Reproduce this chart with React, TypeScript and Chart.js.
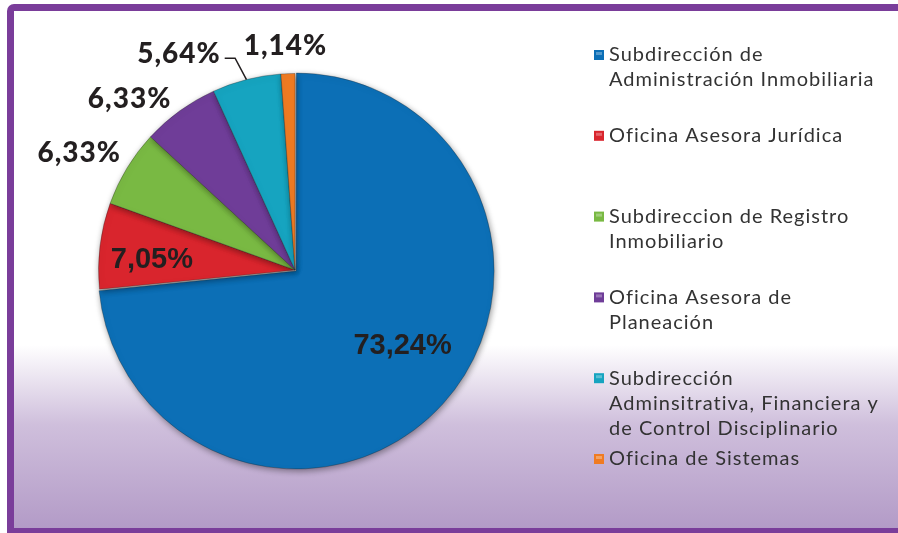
import React, { useEffect, useRef } from 'react';
import { Chart, registerables } from 'chart.js';
Chart.register(...registerables);

// ---- data ----
const categories: string[][] = [
  ['Subdirección de', 'Administración Inmobiliaria'],
  ['Oficina Asesora Jurídica'],
  ['Subdireccion de Registro', 'Inmobiliario'],
  ['Oficina Asesora de', 'Planeación'],
  ['Subdirección', 'Adminsitrativa, Financiera y', 'de Control Disciplinario'],
  ['Oficina de Sistemas'],
];
const shares = [73.24, 7.05, 6.33, 6.33, 5.64, 1.14];
const valueLabels = ['73,24%', '7,05%', '6,33%', '6,33%', '5,64%', '1,14%'];

// ---- styles ----
const sliceColors = ['#0c6fb6', '#d9252d', '#79b943', '#6f3d98', '#16a4c0', '#f07b22'];
const sliceOffsets = [6, 0, 0, 0, 0, 0];
// radial factor and angle tweak (deg) for each value label
const labelPlace = [
  { f: 0.67, d: -7, inner: true },
  { f: 0.73, d: -3, inner: true },
  { f: 1.25, d: -2.7, inner: false },
  { f: 1.21, d: -8.2, inner: false },
  { f: 1.25, d: -13.9, inner: false },
  { f: 1.14, d: -0.4, inner: false },
];
const leaderIndex = 4;

const framePlugin = {
  id: 'frame',
  beforeDraw(chart: any) {
    const ctx = chart.ctx as CanvasRenderingContext2D;
    const W = chart.width, H = chart.height;
    ctx.save();
    ctx.fillStyle = '#ffffff';
    ctx.fillRect(0, 0, W, H);
    ctx.fillStyle = '#7a3d9a';
    ctx.beginPath();
    (ctx as any).roundRect(7, 4, W + 10, H + 10, 7);
    ctx.fill();
    const g = ctx.createLinearGradient(0, 11, 0, 528);
    g.addColorStop(0, '#ffffff');
    g.addColorStop((345 - 11) / 517, '#ffffff');
    g.addColorStop(0.8, '#cfbfdc');
    g.addColorStop(1, '#b39bc7');
    ctx.fillStyle = g;
    ctx.fillRect(14, 11, W - 14, 517);
    ctx.restore();
  },
  beforeDatasetsDraw(chart: any) {
    const ctx = chart.ctx as CanvasRenderingContext2D;
    ctx.save();
    ctx.shadowColor = 'rgba(0,0,0,0.4)';
    ctx.shadowBlur = 6;
    ctx.shadowOffsetX = 1;
    ctx.shadowOffsetY = 2;
  },
  afterDatasetsDraw(chart: any) {
    const ctx = chart.ctx as CanvasRenderingContext2D;
    ctx.restore();
    ctx.save();
    const meta = chart.getDatasetMeta(0);
    meta.data.forEach((arc: any, i: number) => {
      const p = arc.getProps(['x', 'y', 'startAngle', 'endAngle', 'outerRadius'], true);
      const place = labelPlace[i];
      const trueMid = (p.startAngle + p.endAngle) / 2;
      const mid = trueMid + (place.d * Math.PI) / 180;
      const rr = p.outerRadius * place.f;
      const lx = p.x + Math.cos(mid) * rr;
      const ly = p.y + Math.sin(mid) * rr;
      ctx.font = place.inner ? 'bold 29px "Liberation Sans", Arial, sans-serif' : '900 28px Lato, "DejaVu Sans", sans-serif';
      (ctx as any).letterSpacing = place.inner ? '0px' : '1px';
      ctx.textAlign = 'center';
      ctx.textBaseline = 'middle';
      ctx.fillStyle = '#231f20';
      ctx.fillText(valueLabels[i], lx, ly);
      if (i === leaderIndex) {
        const w = ctx.measureText(valueLabels[i]).width;
        const ex = p.x + Math.cos(trueMid) * p.outerRadius;
        const ey = p.y + Math.sin(trueMid) * p.outerRadius;
        const bA = trueMid - (1.5 * Math.PI) / 180;
        const bx = p.x + Math.cos(bA) * p.outerRadius * 1.12;
        const by = p.y + Math.sin(bA) * p.outerRadius * 1.12;
        ctx.strokeStyle = '#231f20';
        ctx.lineWidth = 1.5;
        ctx.beginPath();
        ctx.moveTo(lx + w / 2 + 4, by);
        ctx.lineTo(bx, by);
        ctx.lineTo(ex, ey);
        ctx.stroke();
      }
    });
    ctx.restore();
  },
  afterDraw(chart: any) {
    const ctx = chart.ctx as CanvasRenderingContext2D;
    ctx.save();
    categories.forEach((lines, i) => {
      const top = 55 + 80.8 * i;
      const c = sliceColors[i];
      ctx.fillStyle = c;
      ctx.fillRect(594, top - 5, 10, 10);
      ctx.fillStyle = 'rgba(255,255,255,0.3)';
      ctx.fillRect(596, top - 3, 6, 3);
      ctx.font = '20px Lato, "DejaVu Sans", sans-serif';
      (ctx as any).letterSpacing = '1px';
      ctx.fillStyle = '#333333';
      ctx.textAlign = 'left';
      ctx.textBaseline = 'middle';
      lines.forEach((ln, j) => ctx.fillText(ln, 609, top + 25 * j));
    });
    ctx.restore();
  },
};

export default function App() {
  const ref = useRef<HTMLCanvasElement | null>(null);
  useEffect(() => {
    if (!ref.current) return;
    const chart = new Chart(ref.current, {
      type: 'pie',
      data: {
        labels: categories,
        datasets: [
          {
            data: shares,
            backgroundColor: sliceColors,
            borderColor: 'rgba(30,30,30,0.3)',
            borderWidth: 1,
            offset: sliceOffsets,
          },
        ],
      },
      options: {
        animation: false,
        responsive: true,
        maintainAspectRatio: false,
        layout: { padding: { left: 95, right: 403, top: 70, bottom: 63 } },
        plugins: { legend: { display: false }, tooltip: { enabled: false } },
      },
      plugins: [framePlugin],
    });
    return () => chart.destroy();
  }, []);
  return (
    <div style={{ position: 'fixed', left: 0, top: 0, width: 898, height: 533 }}>
      <canvas ref={ref} />
    </div>
  );
}
